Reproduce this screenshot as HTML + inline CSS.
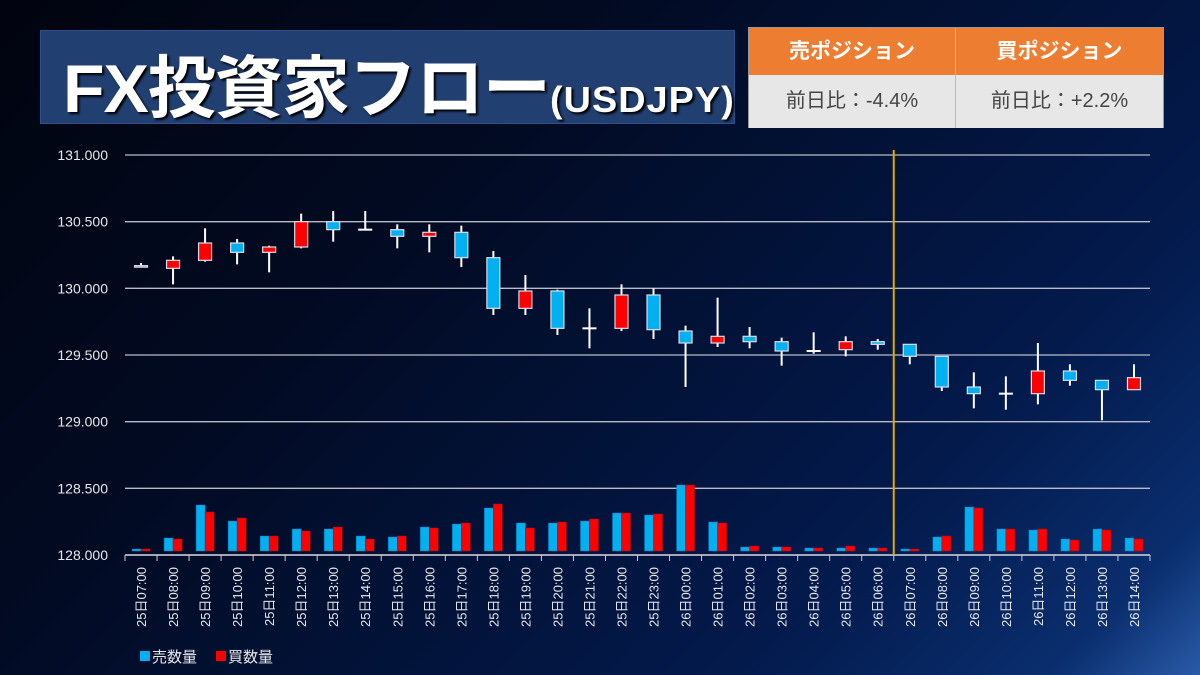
<!DOCTYPE html>
<html><head><meta charset="utf-8">
<style>
html,body{margin:0;padding:0;}
body{width:1200px;height:675px;overflow:hidden;background:linear-gradient(135deg,#01040f 0%,#020b24 35%,#031a4c 75%,#0a2e6e 92%,#2a5aa8 100%);font-family:"Liberation Sans","Noto Sans CJK JP",sans-serif;position:relative;}
#title{position:absolute;left:40px;top:30px;width:695px;height:94px;background:#223f72;border:1px solid #2f508a;box-sizing:border-box;}
#title span.big{position:absolute;left:22px;top:2px;font-size:68px;font-weight:bold;color:#fff;letter-spacing:-1px;font-family:"Liberation Sans","Noto Sans CJK JP",sans-serif;text-shadow:2px 2px 2px #000;white-space:nowrap;}
#title span.small{font-size:36px;font-weight:bold;letter-spacing:1px;display:inline-block;transform:scaleX(1.05);transform-origin:left;}
#tbl{position:absolute;left:748px;top:27px;width:416px;height:101px;border:1px solid #999;box-sizing:border-box;}
.h{position:absolute;top:0;height:47px;background:#ed7d31;color:#fff;font-weight:bold;font-size:21px;text-align:center;line-height:47px;}
.c{position:absolute;top:47px;height:53px;background:#e7e7e7;color:#444;font-size:20px;text-align:center;line-height:53px;}
svg{position:absolute;left:0;top:0;}
</style></head><body>
<div id="title"><span class="big">FX投資家フロー<span class="small">(USDJPY)</span></span></div>
<div id="tbl">
<div class="h" style="left:0;width:206px;border-right:1px solid #c0c0c0;">売ポジション</div>
<div class="h" style="left:207px;width:207px;">買ポジション</div>
<div class="c" style="left:0;width:206px;border-right:1px solid #bbb;">前日比：-4.4%</div>
<div class="c" style="left:207px;width:207px;">前日比：+2.2%</div>
</div>
<svg id="chart" width="1200" height="675"></svg>
<script>
const categories=["25日07:00","25日08:00","25日09:00","25日10:00","25日11:00","25日12:00","25日13:00","25日14:00","25日15:00","25日16:00","25日17:00","25日18:00","25日19:00","25日20:00","25日21:00","25日22:00","25日23:00","26日00:00","26日01:00","26日02:00","26日03:00","26日04:00","26日05:00","26日06:00","26日07:00","26日08:00","26日09:00","26日10:00","26日11:00","26日12:00","26日13:00","26日14:00"];
const openV=[130.17,130.15,130.21,130.34,130.27,130.31,130.50,130.44,130.44,130.39,130.42,130.23,129.85,129.98,129.70,129.70,129.95,129.68,129.59,129.64,129.60,129.53,129.54,129.60,129.58,129.49,129.26,129.21,129.21,129.38,129.31,129.24];
const highV=[130.19,130.24,130.45,130.37,130.32,130.56,130.58,130.58,130.48,130.48,130.47,130.28,130.10,129.99,129.85,130.03,130.00,129.72,129.93,129.71,129.63,129.67,129.64,129.62,129.58,129.49,129.37,129.34,129.59,129.43,129.31,129.43];
const lowV=[130.16,130.03,130.20,130.18,130.12,130.30,130.35,130.44,130.30,130.27,130.16,129.80,129.80,129.65,129.55,129.68,129.62,129.26,129.56,129.55,129.42,129.51,129.49,129.54,129.43,129.23,129.10,129.09,129.13,129.27,129.01,129.24];
const closeV=[130.16,130.21,130.34,130.27,130.31,130.50,130.44,130.44,130.39,130.42,130.23,129.85,129.98,129.70,129.70,129.95,129.69,129.59,129.64,129.60,129.53,129.53,129.60,129.58,129.49,129.26,129.21,129.21,129.38,129.31,129.24,129.33];
const sellVol=[2,13,46,30,15,22,22,15,14,24,27,43,28,28,30,38,36,66,29,4,4,3,3,3,2,14,44,22,21,12,22,13];
const buyVol=[2,12,39,33,15,20,24,12,15,23,28,47,23,29,32,38,37,66,28,5,4,3,5,3,2,15,43,22,22,11,21,12];
const yTicks=[131,130.5,130,129.5,129,128.5,128];
const yTickLabels=["131.000","130.500","130.000","129.500","129.000","128.500","128.000"];
const markerIndex=23.5;

const svg=document.getElementById('chart');
const NS='http://www.w3.org/2000/svg';
const L=125,R=1150,T=155,B=555,VB=551;
const step=(R-L)/categories.length;
const x=i=>L+step*(i+0.5);
const y=v=>T+(131-v)/(131-128)*(B-T);
const vy=v=>VB-v;
function mk(tag,attrs,parent){const e=document.createElementNS(NS,tag);for(const k in attrs)e.setAttribute(k,attrs[k]);(parent||svg).appendChild(e);return e;}
yTicks.forEach((t,i)=>{
  const g=mk('line',{x1:L,x2:R,y1:y(t),y2:y(t),stroke:'#b8bcc8','stroke-width':1.3});
  
  
  const tx=mk('text',{x:108,y:y(t)+5,'text-anchor':'end',fill:'#e8e8e8','font-size':14,'font-family':'Liberation Sans, DejaVu Sans, sans-serif'});
  tx.textContent=yTickLabels[i];
  
  
});
categories.forEach((c,i)=>{
  const b1=mk('rect',{x:x(i)-9,y:vy(sellVol[i]),width:9,height:sellVol[i],fill:'#00b0f0',stroke:'#1070b0','stroke-width':0.5});
  
  
  const b2=mk('rect',{x:x(i),y:vy(buyVol[i]),width:9,height:buyVol[i],fill:'#ff0000',stroke:'#a01020','stroke-width':0.5});
  
  
});
const ax=mk('line',{x1:L,x2:R,y1:B,y2:B,stroke:'#c8ccd8','stroke-width':1.5});


for(let i=0;i<=categories.length;i++){
  const tk=mk('line',{x1:L+step*i,x2:L+step*i,y1:B,y2:B+6,stroke:'#c8ccd8','stroke-width':1});
  
  
}
categories.forEach((c,i)=>{
  const t=mk('text',{x:0,y:0,transform:`translate(${x(i)+5},${567}) rotate(-90)`,'text-anchor':'end',fill:'#e8e8e8','font-size':13,'font-family':'Liberation Sans, Noto Sans CJK JP, sans-serif'});
  t.textContent=c;
  
  
});
categories.forEach((c,i)=>{
  const w=mk('line',{x1:x(i),x2:x(i),y1:y(highV[i]),y2:y(lowV[i]),stroke:'#ffffff','stroke-width':2});
  
  
  if(Math.abs(closeV[i]-openV[i])<0.005){
    const d=mk('line',{x1:x(i)-7,x2:x(i)+7,y1:y(openV[i]),y2:y(openV[i]),stroke:'#ffffff','stroke-width':2});
    
    
    return;
  }
  const up=closeV[i]>=openV[i];
  const top=y(Math.max(openV[i],closeV[i])),bot=y(Math.min(openV[i],closeV[i]));
  const h=Math.max(bot-top,1.5);
  const r=mk('rect',{x:x(i)-6.5,y:top,width:13,height:h,fill:up?'#ff0000':'#00b0f0',stroke:'#d8dce8','stroke-width':1.2});
  
  
});
const mx=L+step*(markerIndex+0.5);
const ml=mk('line',{x1:mx,x2:mx,y1:150,y2:555,stroke:'#e0a800','stroke-width':2});


const lg=mk('g',{});


const s1=mk('rect',{x:140,y:651,width:10,height:10,fill:'#00b0f0'},lg);


const t1=mk('text',{x:152,y:662,fill:'#e8e8e8','font-size':15,'font-family':'Liberation Sans, Noto Sans CJK JP, sans-serif'},lg);
t1.textContent='売数量';


const s2=mk('rect',{x:216,y:651,width:10,height:10,fill:'#ff0000'},lg);


const t2=mk('text',{x:228,y:662,fill:'#e8e8e8','font-size':15,'font-family':'Liberation Sans, Noto Sans CJK JP, sans-serif'},lg);
t2.textContent='買数量';


</script>
</body></html>
